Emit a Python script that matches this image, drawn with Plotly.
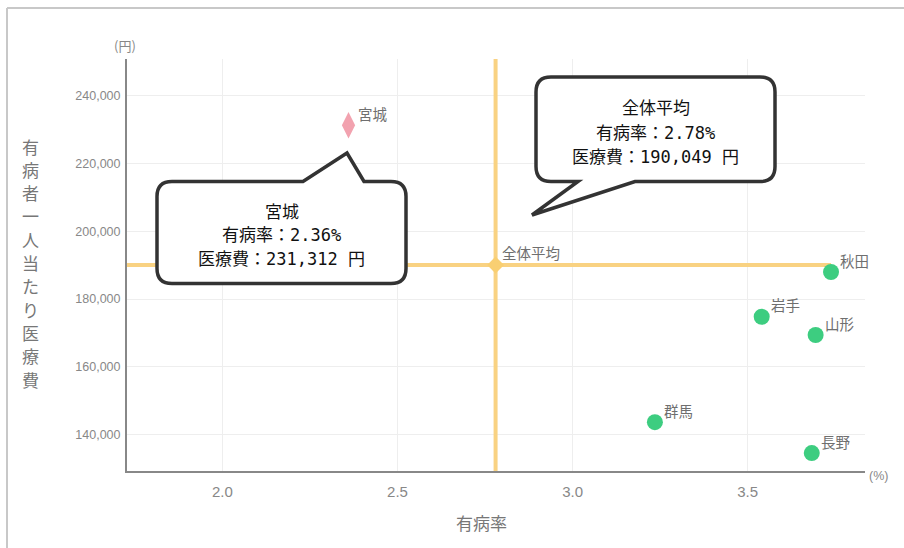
import plotly.graph_objects as go

# ---- data ----
pref_names = ["秋田", "岩手", "山形", "群馬", "長野"]
pref_rate = [3.738, 3.540, 3.694, 3.235, 3.683]          # 有病率 (%)
pref_cost = [187980, 174770, 169370, 143630, 134500]     # 医療費 (円)

focus_name = "宮城"
focus_rate = 2.36
focus_cost = 231312

avg_name = "全体平均"
avg_rate = 2.78
avg_cost = 190049

x_ticks = [2.0, 2.5, 3.0, 3.5]
x_tick_labels = ["2.0", "2.5", "3.0", "3.5"]
y_ticks = [140000, 160000, 180000, 200000, 220000, 240000]
y_tick_labels = ["140,000", "160,000", "180,000", "200,000", "220,000", "240,000"]

x_title = "有病率"
y_title = "有病者一人当たり医療費"
x_unit = "(%)"
y_unit = "(円)"

# ---- layout geometry ----
W, H = 904, 548
ML, MR, MT, MB = 127, 39, 59, 77
PW, PH = W - ML - MR, H - MT - MB
x_range = [1.7274, 3.835]
y_range = [129200, 250900]

CJK = "Noto Sans CJK JP"
LAT = "Liberation Sans, Arial, sans-serif"
MONO = "DejaVu Sans Mono, Noto Sans CJK JP"


def px(x):
    return (x - ML) / PW


def py(y):
    return (MT + PH - y) / PH


def P(x, y):
    return f"{px(x):.5f},{py(y):.5f}"


def callout_path(left, right, top, bottom, r, tail, side):
    # tail = (base_a_x, tip_x, tip_y, base_b_x)
    a, tx, ty, b = tail
    s = f"M{P(left + r, top)}"
    if side == "top":
        s += f" L{P(a, top)} L{P(tx, ty)} L{P(b, top)}"
    s += f" L{P(right - r, top)} Q{P(right, top)} {P(right, top + r)}"
    s += f" L{P(right, bottom - r)} Q{P(right, bottom)} {P(right - r, bottom)}"
    if side == "bottom":
        s += f" L{P(b, bottom)} L{P(tx, ty)} L{P(a, bottom)}"
    s += f" L{P(left + r, bottom)} Q{P(left, bottom)} {P(left, bottom - r)}"
    s += f" L{P(left, top + r)} Q{P(left, top)} {P(left + r, top)} Z"
    return s


fig = go.Figure()

# average lines
fig.add_trace(go.Scatter(
    x=[x_range[0], max(pref_rate)], y=[avg_cost, avg_cost], mode="lines",
    line=dict(color="#F9D282", width=4), hoverinfo="skip", showlegend=False))
fig.add_trace(go.Scatter(
    x=[avg_rate, avg_rate], y=[y_range[0], y_range[1]], mode="lines",
    line=dict(color="#F9D282", width=4), hoverinfo="skip", showlegend=False))
fig.add_trace(go.Scatter(
    x=[avg_rate], y=[avg_cost], mode="markers",
    marker=dict(symbol="diamond", size=13, color="#F9CF72"),
    showlegend=False))

# prefecture points
fig.add_trace(go.Scatter(
    x=pref_rate, y=pref_cost, mode="markers",
    marker=dict(symbol="circle", size=16, color="#3DCD80"),
    showlegend=False))
fig.add_trace(go.Scatter(
    x=[focus_rate], y=[focus_cost], mode="markers",
    marker=dict(symbol="diamond-tall", size=19, color="#F2A2AF"),
    showlegend=False))

ann = []
label_font = dict(family=CJK, size=14.5, color="#6f6f6f")
for n, xv, yv in zip(pref_names + [focus_name], pref_rate + [focus_rate], pref_cost + [focus_cost]):
    ann.append(dict(x=xv, y=yv, xref="x", yref="y", text=n, showarrow=False,
                    xanchor="left", yanchor="middle", xshift=7, yshift=12, font=label_font))
ann.append(dict(x=avg_rate, y=avg_cost, xref="x", yref="y", text=avg_name, showarrow=False,
                xanchor="left", yanchor="middle", xshift=4, yshift=13, font=label_font))

# units and titles
ann.append(dict(x=px(125), y=py(45), xref="paper", yref="paper", text=y_unit, showarrow=False,
                xanchor="center", yanchor="middle", font=dict(family=CJK, size=13, color="#888")))
ann.append(dict(x=px(867), y=py(476), xref="paper", yref="paper", text=x_unit, showarrow=False,
                xanchor="left", yanchor="middle", font=dict(family=LAT, size=12.5, color="#888")))
ann.append(dict(x=px(481), y=py(522), xref="paper", yref="paper", text=x_title, showarrow=False,
                xanchor="center", yanchor="middle", font=dict(family=CJK, size=17, color="#777")))
for i, ch in enumerate(y_title):
    ann.append(dict(x=px(30), y=py(146 + i * 23.3), xref="paper", yref="paper", text=ch,
                    showarrow=False, xanchor="center", yanchor="middle",
                    font=dict(family=CJK, size=17, color="#777")))

# callouts
shapes = []
shapes.append(dict(type="path", xref="paper", yref="paper",
                   path=callout_path(157, 406, 181.5, 283.5, 15, (303, 347, 153, 364), "top"),
                   fillcolor="white", line=dict(color="#333333", width=3.5), layer="above"))
shapes.append(dict(type="path", xref="paper", yref="paper",
                   path=callout_path(536, 775, 77, 181.5, 15, (578, 532, 215, 635), "bottom"),
                   fillcolor="white", line=dict(color="#333333", width=3.5), layer="above"))

cfont = dict(family=MONO, size=17, color="#111")
c1 = [focus_name, f"有病率：{focus_rate:.2f}%", f"医療費：{focus_cost:,} 円"]
c2 = [avg_name, f"有病率：{avg_rate:.2f}%", f"医療費：{avg_cost:,} 円"]
for i, t in enumerate(c1):
    ann.append(dict(x=px(281.5), y=py(212 + i * 23.3), xref="paper", yref="paper", text=t,
                    showarrow=False, xanchor="center", yanchor="middle", font=cfont))
for i, t in enumerate(c2):
    ann.append(dict(x=px(655.5), y=py(108 + i * 24.5), xref="paper", yref="paper", text=t,
                    showarrow=False, xanchor="center", yanchor="middle", font=cfont))

# outer frame (top and left edges)
shapes.append(dict(type="line", xref="paper", yref="paper", x0=px(7), x1=px(904), y0=py(8), y1=py(8),
                   line=dict(color="#c8c8c8", width=2), layer="above"))
shapes.append(dict(type="line", xref="paper", yref="paper", x0=px(7), x1=px(7), y0=py(8), y1=py(548),
                   line=dict(color="#c8c8c8", width=2), layer="above"))

fig.update_layout(
    width=W, height=H,
    margin=dict(l=ML, r=MR, t=MT, b=MB, pad=0),
    paper_bgcolor="white", plot_bgcolor="white",
    showlegend=False,
    annotations=ann, shapes=shapes,
    xaxis=dict(range=x_range, tickvals=x_ticks, ticktext=x_tick_labels,
               showgrid=True, gridcolor="#eeeeee", gridwidth=1, zeroline=False,
               showline=True, linecolor="#888888", linewidth=2, ticks="",
               tickfont=dict(family=LAT, size=15, color="#888"), ticklabelstandoff=6),
    yaxis=dict(range=y_range, tickvals=y_ticks, ticktext=y_tick_labels,
               showgrid=True, gridcolor="#eeeeee", gridwidth=1, zeroline=False,
               showline=True, linecolor="#888888", linewidth=2, ticks="",
               tickfont=dict(family=LAT, size=12.5, color="#888"), ticklabelstandoff=2),
)

fig.write_html("out.html",
               config={"displayModeBar": False},
               post_script="document.body.style.margin='0';document.body.style.padding='0';")
